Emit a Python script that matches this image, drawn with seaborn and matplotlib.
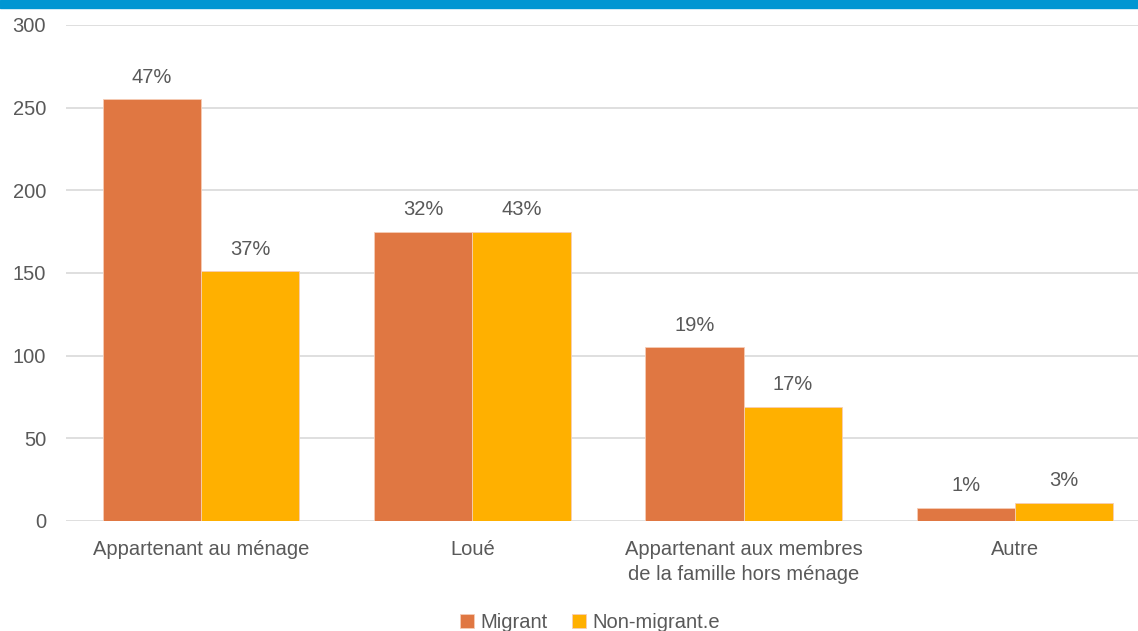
import matplotlib
matplotlib.use("Agg")
import matplotlib.pyplot as plt
from matplotlib.patches import Rectangle
import seaborn as sns
import pandas as pd

categories = ["Appartenant au ménage", "Loué",
              "Appartenant aux membres\nde la famille hors ménage", "Autre"]
series = ["Migrant", "Non-migrant.e"]
migrant = [255, 175, 105, 8]
non_migrant = [151, 175, 69, 11]
migrant_pct = ["47%", "32%", "19%", "1%"]
non_migrant_pct = ["37%", "43%", "17%", "3%"]
yticks = [0, 50, 100, 150, 200, 250, 300]

colors = ["#E07742", "#FFB000"]
text_color = "#595959"

df = pd.DataFrame({
    "Catégorie": categories * 2,
    "Série": [series[0]] * 4 + [series[1]] * 4,
    "Valeur": migrant + non_migrant,
})

sns.set_style("white")
plt.rcParams["font.family"] = ["Liberation Sans", "DejaVu Sans"]
fs = 14.5

fig = plt.figure(figsize=(11.38, 6.31), dpi=100)
ax = fig.add_axes([65.5 / 1138, 1 - 521 / 631, 1085 / 1138, (521 - 25) / 631])

sns.barplot(data=df, x="Catégorie", y="Valeur", hue="Série",
            palette=colors, saturation=1, width=0.724, edgecolor="#F6CDB6",
            linewidth=0.6, ax=ax, legend=True)

# percentage labels above bars
for container, labels in zip(ax.containers, [migrant_pct, non_migrant_pct]):
    ax.bar_label(container, labels=labels, padding=9, fontsize=fs, color=text_color)

ax.set_ylim(0, 300)
ax.set_xlim(-0.5, 3.5)
ax.set_yticks(yticks)
ax.set_xlabel("")
ax.set_ylabel("")
ax.grid(True, axis="y", color="#D9D9D9", linewidth=1.2)
ax.set_axisbelow(True)
for s in ax.spines.values():
    s.set_visible(False)
ax.tick_params(axis="both", length=0, labelsize=fs, colors=text_color)
ax.tick_params(axis="y", pad=14)
ax.tick_params(axis="x", pad=14)
for lbl in ax.get_xticklabels():
    lbl.set_linespacing(1.35)

# legend at the very bottom, partly cut like the reference
ax.legend(loc="lower center", bbox_to_anchor=(590 / 1138, -19 / 631),
          bbox_transform=fig.transFigure, ncol=2, frameon=False,
          fontsize=fs, handlelength=0.7, handleheight=0.7, handletextpad=0.3,
          columnspacing=1.2, labelcolor=text_color)

# blue band at the top
fig.patches.append(Rectangle((0, 1 - 8 / 631), 1, 8 / 631, transform=fig.transFigure,
                             color="#0096D2", zorder=10))

fig.savefig("out.png", dpi=100)
